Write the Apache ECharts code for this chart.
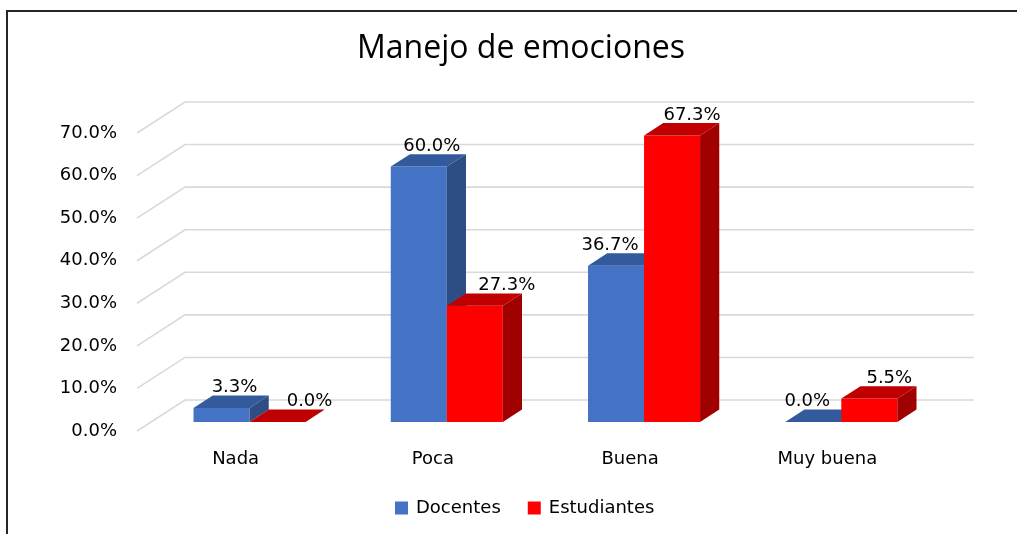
<!DOCTYPE html>
<html>
<head>
<meta charset="utf-8">
<script src="https://cdn.jsdelivr.net/npm/echarts@6/dist/echarts.min.js"></script>
<style>
html,body{margin:0;padding:0;background:#fff;}
#chart{width:1017px;height:534px;}
</style>
</head>
<body>
<div id="chart"></div>
<script>
// ---- data ----
const categories = ['Nada', 'Poca', 'Buena', 'Muy buena'];
const docentes = [3.3, 60.0, 36.7, 0.0];
const estudiantes = [0.0, 27.3, 67.3, 5.5];
const yTicks = [0, 10, 20, 30, 40, 50, 60, 70];
const seriesNames = ['Docentes', 'Estudiantes'];

// ---- style constants ----
const FONT = '"DejaVu Sans", Verdana, sans-serif';
const DEPTH_X = 48, DEPTH_Y = -31;   // full floor depth
const BAR_PLANE = 0.29;              // where bar front faces sit
const BAR_DEPTH = 0.4;               // bar depth as fraction
const BAR_W = 0.284;                 // bar width as fraction of band
const COLORS = [
  {front: '#4472C4', top: '#335A9C', side: '#2E4D84'},
  {front: '#FF0000', top: '#C00000', side: '#A00000'}
];

const chart = echarts.init(document.getElementById('chart'));

function gridItem(params, api) {
  const cs = params.coordSys;
  const y = api.coord([0, api.value(1)])[1];
  return {
    type: 'polyline',
    shape: {points: [[cs.x, y], [cs.x + DEPTH_X, y + DEPTH_Y], [cs.x + cs.width + DEPTH_X, y + DEPTH_Y]]},
    style: {stroke: '#D9D9D9', lineWidth: 1.6, fill: null},
    silent: true
  };
}

function makeBarItem(sIdx) {
  return function (params, api) {
    const cs = params.coordSys;
    const ci = api.value(0);
    const val = api.value(1);
    const band = cs.width / categories.length;
    const bw = band * BAR_W;
    const ox = DEPTH_X * BAR_PLANE, oy = DEPTH_Y * BAR_PLANE;
    const bdx = DEPTH_X * BAR_DEPTH, bdy = DEPTH_Y * BAR_DEPTH;
    const base = api.coord([ci, 0]);
    const top = api.coord([ci, val]);
    const x0 = base[0] + ox - (sIdx === 0 ? bw : 0);
    const x1 = x0 + bw;
    const yb = base[1] + oy;
    const yt = top[1] + oy;
    const c = COLORS[sIdx];
    const children = [];
    if (yb - yt > 0.5) {
      children.push({type: 'rect', shape: {x: x0, y: yt, width: bw, height: yb - yt}, style: {fill: c.front}});
      children.push({type: 'polygon', shape: {points: [[x1, yt], [x1 + bdx, yt + bdy], [x1 + bdx, yb + bdy], [x1, yb]]}, style: {fill: c.side}});
    }
    children.push({type: 'polygon', shape: {points: [[x0, yt], [x1, yt], [x1 + bdx, yt + bdy], [x0 + bdx, yt + bdy]]}, style: {fill: c.top}});
    // label placement (nudged away from a taller neighbour, like the original)
    const other = sIdx === 0 ? estudiantes[ci] : docentes[ci];
    let lx;
    if (sIdx === 0) lx = (x0 + x1) / 2 + (other > val ? -6 : 13);
    else lx = (x0 + x1) / 2 + (other > val ? 32 : 20);
    children.push({
      type: 'text',
      style: {
        text: val.toFixed(1) + '%', x: lx, y: yt + bdy + 1,
        align: 'center', verticalAlign: 'bottom',
        font: '18px ' + FONT, fill: '#000'
      }
    });
    return {type: 'group', children: children};
  };
}

const option = {
  backgroundColor: '#fff',
  animation: false,
  title: {
    text: 'Manejo de emociones',
    left: 352, top: 28,
    textStyle: {fontFamily: '"Open Sans", sans-serif', fontSize: 32, fontWeight: 'normal', color: '#000'}
  },
  legend: {
    data: seriesNames,
    left: 390, top: 494,
    itemWidth: 13, itemHeight: 13, itemGap: 27,
    icon: 'rect',
    textStyle: {fontFamily: FONT, fontSize: 18, color: '#000', padding: [0, 0, 0, 3]}
  },
  grid: {left: 137, right: 91, top: 133, bottom: 103, containLabel: false},
  xAxis: {
    type: 'category', data: categories,
    axisLine: {show: false}, axisTick: {show: false},
    axisLabel: {fontFamily: FONT, fontSize: 18, color: '#000', margin: 19}
  },
  yAxis: {
    type: 'value', min: 0, max: 70, interval: 10,
    axisLine: {show: false}, axisTick: {show: false}, splitLine: {show: false},
    axisLabel: {fontFamily: FONT, fontSize: 18, color: '#000', margin: 20,
      formatter: v => v.toFixed(1) + '%'}
  },
  graphic: [{
    type: 'polyline', silent: true,
    shape: {points: [[7, 540], [7, 11], [1020, 11]]},
    style: {stroke: '#262626', lineWidth: 2, fill: null}
  }],
  series: [
    {type: 'custom', name: '_grid', renderItem: gridItem, data: yTicks.map(v => [0, v]),
      encode: {x: 0, y: 1}, silent: true, z: 1},
    {type: 'custom', name: seriesNames[0], renderItem: makeBarItem(0),
      data: docentes.map((v, i) => [i, v]), encode: {x: 0, y: 1},
      itemStyle: {color: COLORS[0].front}, z: 2},
    {type: 'custom', name: seriesNames[1], renderItem: makeBarItem(1),
      data: estudiantes.map((v, i) => [i, v]), encode: {x: 0, y: 1},
      itemStyle: {color: COLORS[1].front}, z: 3}
  ]
};
chart.setOption(option);
</script>
</body>
</html>
